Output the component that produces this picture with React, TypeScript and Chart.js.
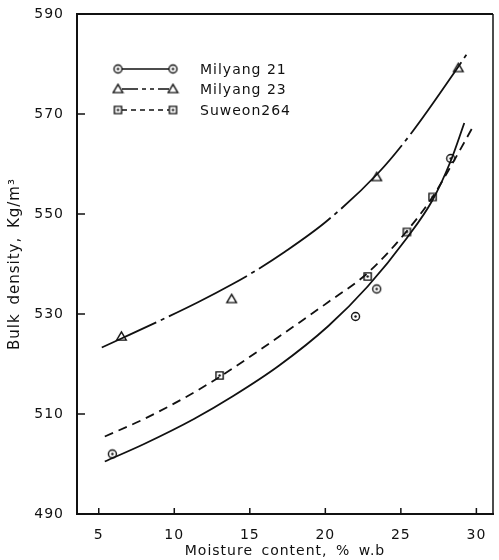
import { useEffect, useRef } from "react";
import { Chart, registerables } from "chart.js";

Chart.register(...registerables);

// Axis ticks
const xTicks = [5, 10, 15, 20, 25, 30];
const yTicks = [490, 510, 530, 550, 570, 590];

const seriesNames = ["Milyang 21", "Milyang 23", "Suweon264"];

// Measured bulk density (kg/m³) vs moisture content (% w.b)
const m21X = [5.9, 22.0, 23.4, 28.3];
const m21Y = [502.0, 529.5, 535.0, 561.1];
const m23X = [6.5, 13.8, 23.4, 28.8];
const m23Y = [525.5, 533.0, 557.4, 579.2];
const s264X = [13.0, 22.8, 25.4, 27.1];
const s264Y = [517.7, 537.5, 546.4, 553.4];

// Fitted curves
const m21FitX = [5.4, 8.0, 11.3, 13.9, 16.9, 20.2, 22.8, 25.4, 27.1, 28.3, 29.2];
const m21FitY = [500.5, 504.0, 509.0, 513.6, 519.6, 527.6, 535.5, 545.2, 552.8, 560.6, 568.2];
const m23FitX = [5.2, 6.5, 9.0, 11.6, 13.8, 15.3, 17.3, 20.1, 23.5, 25.7, 28.7, 29.5];
const m23FitY = [523.3, 525.1, 528.6, 532.4, 535.9, 538.5, 542.4, 548.6, 558.2, 566.2, 579.0, 582.6];
const s264FitX = [5.4, 8.0, 11.3, 13.6, 16.9, 20.2, 22.8, 25.4, 27.1, 28.3, 29.8];
const s264FitY = [505.5, 509.0, 514.3, 518.6, 525.4, 532.4, 538.2, 546.6, 553.4, 559.5, 567.6];

const INK = "#111";
const FONT = "'DejaVu Sans', 'Liberation Sans', sans-serif";

const pts = (xs: number[], ys: number[]) => xs.map((x, i) => ({ x, y: ys[i] }));

type MarkerKind = "circle" | "triangle" | "square";

function makeMarker(kind: MarkerKind): HTMLCanvasElement {
  const c = document.createElement("canvas");
  c.width = 13;
  c.height = 13;
  const g = c.getContext("2d")!;
  const m = 6.5;
  g.strokeStyle = INK;
  g.fillStyle = "#fff";
  g.lineWidth = 1.4;
  g.beginPath();
  if (kind === "circle") {
    g.arc(m, m, 4, 0, Math.PI * 2);
  } else if (kind === "triangle") {
    g.moveTo(m, m - 4.6);
    g.lineTo(m + 4.8, m + 3.6);
    g.lineTo(m - 4.8, m + 3.6);
    g.closePath();
  } else {
    g.rect(m - 3.6, m - 3.6, 7.2, 7.2);
  }
  g.fill();
  g.stroke();
  if (kind !== "triangle") {
    g.fillStyle = INK;
    g.beginPath();
    g.arc(m, m, 1.2, 0, Math.PI * 2);
    g.fill();
  }
  return c;
}

const curveDashes: number[][] = [[], [88, 5, 4, 5], [9, 6]];
const legendDashes: number[][] = [[], [16, 4, 4, 4, 4, 4], [5, 4]];

function setSpacing(ctx: any) {
  ctx.letterSpacing = "1px";
  ctx.wordSpacing = "3px";
}

export default function App() {
  const ref = useRef<HTMLCanvasElement>(null);

  useEffect(() => {
    if (!ref.current) return;
    const markers = [makeMarker("circle"), makeMarker("triangle"), makeMarker("square")];

    const paperPlugin = {
      id: "paper",
      beforeInit(chart: any) {
        setSpacing(chart.ctx);
      },
      beforeUpdate(chart: any) {
        setSpacing(chart.ctx);
      },
      beforeDraw(chart: any) {
        const ctx = chart.ctx;
        ctx.save();
        ctx.fillStyle = "#fff";
        ctx.fillRect(0, 0, chart.width, chart.height);
        ctx.restore();
        setSpacing(ctx);
      },
      afterDraw(chart: any) {
        const { ctx, chartArea: a, scales } = chart;
        ctx.save();
        ctx.strokeStyle = INK;
        ctx.lineCap = "butt";
        // top and right frame
        ctx.lineWidth = 2;
        ctx.beginPath();
        ctx.moveTo(a.left, a.top);
        ctx.lineTo(a.right, a.top);
        ctx.stroke();
        ctx.lineWidth = 1.5;
        ctx.beginPath();
        ctx.moveTo(a.right, a.top);
        ctx.lineTo(a.right, a.bottom);
        ctx.stroke();
        // inward tick marks
        ctx.lineWidth = 1.5;
        ctx.beginPath();
        for (const v of xTicks) {
          const px = scales.x.getPixelForValue(v);
          ctx.moveTo(px, a.bottom);
          ctx.lineTo(px, a.bottom - 6);
        }
        for (const v of yTicks) {
          const py = scales.y.getPixelForValue(v);
          ctx.moveTo(a.left, py);
          ctx.lineTo(a.left + 8, py);
        }
        ctx.stroke();

        // legend
        const x0 = a.left + 41;
        const x1 = a.left + 96;
        const tx = a.left + 123;
        const rows = [a.top + 55, a.top + 75, a.top + 96];
        ctx.font = `14px ${FONT}`;
        ctx.fillStyle = INK;
        ctx.textBaseline = "middle";
        ctx.textAlign = "left";
        ctx.letterSpacing = "1px";
        ctx.wordSpacing = "0px";
        seriesNames.forEach((name, i) => {
          const y = rows[i];
          ctx.lineWidth = 1.6;
          ctx.setLineDash(legendDashes[i]);
          ctx.beginPath();
          ctx.moveTo(x0 + 4, y);
          ctx.lineTo(x1 - 4, y);
          ctx.stroke();
          ctx.setLineDash([]);
          const mk = markers[i];
          ctx.drawImage(mk, x0 - mk.width / 2, y - mk.height / 2);
          ctx.drawImage(mk, x1 - mk.width / 2, y - mk.height / 2);
          ctx.fillText(name, tx, y + 1);
        });
        ctx.restore();
      },
    };

    const curveSets = [
      pts(m21FitX, m21FitY),
      pts(m23FitX, m23FitY),
      pts(s264FitX, s264FitY),
    ];
    const markSets = [pts(m21X, m21Y), pts(m23X, m23Y), pts(s264X, s264Y)];

    const datasets: any[] = [];
    curveSets.forEach((data, i) => {
      datasets.push({
        label: seriesNames[i] + " fit",
        data,
        showLine: true,
        borderColor: INK,
        borderWidth: 1.8,
        borderDash: curveDashes[i],
        borderDashOffset: i === 1 ? 28 : 0,
        pointRadius: 0,
        cubicInterpolationMode: "monotone",
        fill: false,
      });
    });
    markSets.forEach((data, i) => {
      datasets.push({
        label: seriesNames[i],
        data,
        showLine: false,
        pointStyle: markers[i],
        pointRadius: 5,
        borderColor: INK,
        backgroundColor: "#fff",
      });
    });

    const tickFont = { family: FONT, size: 14 };

    const chart = new Chart(ref.current, {
      type: "scatter",
      data: { datasets },
      plugins: [paperPlugin],
      options: {
        responsive: false,
        animation: false,
        devicePixelRatio: 1,
        layout: { padding: { left: 0, top: 14, right: 2, bottom: 0 } },
        plugins: {
          legend: { display: false },
          tooltip: { enabled: false },
        },
        scales: {
          x: {
            type: "linear",
            min: 3.56,
            max: 31.1,
            afterBuildTicks: (s: any) => {
              s.ticks = xTicks.map((value) => ({ value }));
            },
            afterFit: (s: any) => {
              s.height = 46;
            },
            grid: { display: false },
            border: { display: true, color: INK, width: 2 },
            ticks: {
              color: INK,
              font: tickFont,
              padding: 5,
              maxRotation: 0,
              autoSkip: false,
              callback: (v: any) => String(v),
            },
            title: {
              display: true,
              text: "Moisture content, % w.b",
              color: INK,
              font: { family: FONT, size: 14 },
              padding: { top: 0, bottom: 0 },
            },
          },
          y: {
            type: "linear",
            min: 490,
            max: 590,
            afterBuildTicks: (s: any) => {
              s.ticks = yTicks.map((value) => ({ value }));
            },
            afterFit: (s: any) => {
              s.width = 77;
            },
            grid: { display: false },
            border: { display: true, color: INK, width: 2 },
            ticks: {
              color: INK,
              font: tickFont,
              padding: 5,
              autoSkip: false,
              callback: (v: any) => String(v),
            },
            title: {
              display: true,
              text: "Bulk density, Kg/m³",
              color: INK,
              font: { family: FONT, size: 15 },
              padding: { top: 6, bottom: 0 },
            },
          },
        },
      },
    });

    return () => chart.destroy();
  }, []);

  return (
    <div
      style={{
        position: "fixed",
        left: 0,
        top: 0,
        width: 499,
        height: 560,
        background: "#fff",
      }}
    >
      <canvas ref={ref} width={499} height={560} style={{ display: "block" }} />
    </div>
  );
}
